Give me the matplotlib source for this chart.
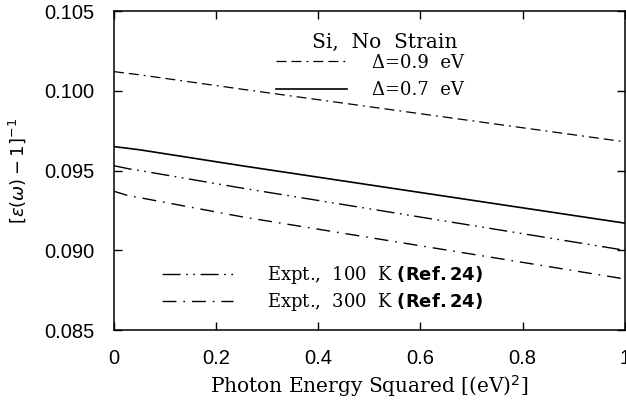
import matplotlib
matplotlib.use('Agg')
import matplotlib.pyplot as plt

matplotlib.rcParams['mathtext.fontset'] = 'dejavusans'

# photon energy squared (eV^2)
x = [0.0, 0.05, 0.25, 0.5, 0.75, 1.0]
# [eps(w)-1]^-1
d09 = [0.1012, 0.1010, 0.1001, 0.0990, 0.0979, 0.0968]
d07 = [0.0965, 0.0963, 0.0953, 0.0941, 0.0929, 0.0917]
x_expt = [0.0, 0.03, 0.05, 0.25, 0.5, 0.75, 1.0]
e100 = [0.0953, 0.0951, 0.0950, 0.0939, 0.0926, 0.0913, 0.0900]
e300 = [0.0937, 0.0934, 0.0933, 0.0921, 0.0908, 0.0895, 0.0882]

xticks = [0, 0.2, 0.4, 0.6, 0.8, 1]
xticklabels = ['0', '0.2', '0.4', '0.6', '0.8', '1']
yticks = [0.085, 0.090, 0.095, 0.100, 0.105]
yticklabels = ['0.085', '0.090', '0.095', '0.100', '0.105']

fig = plt.figure(figsize=(6.26, 4.0), dpi=100)
ax = fig.add_axes([0.182, 0.175, 0.816, 0.7975])

l09, = ax.plot(x, d09, color='black', lw=0.9, linestyle=(0, (8, 4, 8, 4, 1.5, 4)))
l07, = ax.plot(x, d07, color='black', lw=1.2, linestyle='-')
l100, = ax.plot(x_expt, e100, color='black', lw=1.0, linestyle=(0, (13, 4, 1.2, 4, 1.2, 4)))
l300, = ax.plot(x_expt, e300, color='black', lw=1.0, linestyle=(0, (10, 5, 1.2, 5)))

ax.set_xlim(0, 1)
ax.set_ylim(0.085, 0.105)
ax.set_xticks(xticks)
ax.set_xticklabels(xticklabels, fontfamily='Liberation Sans', fontsize=14.5)
ax.set_yticks(yticks)
ax.set_yticklabels(yticklabels, fontfamily='Liberation Sans', fontsize=14.5)
ax.tick_params(direction='in', length=6, width=1.0, top=True, right=True, pad=14)
for s in ax.spines.values():
    s.set_linewidth(1.1)

ax.set_xlabel(r'Photon Energy Squared [(eV)$^2$]', fontfamily='DejaVu Serif', fontsize=14.5, labelpad=3)
ax.set_ylabel(r'$[\varepsilon(\omega)-1]^{-1}$', fontsize=13, labelpad=12)

ax.text(0.673, 0.90, 'Si,  No  Strain', transform=ax.transAxes, ha='right', va='center',
        fontfamily='DejaVu Serif', fontsize=14.5)
leg1 = ax.legend([l09, l07], ['\u0394=0.9  eV', '\u0394=0.7  eV'],
                 loc='upper left', bbox_to_anchor=(0.30, 0.895), frameon=False,
                 prop={'family': 'DejaVu Serif', 'size': 13},
                 handlelength=3.9, handletextpad=1.4, labelspacing=0.55, borderpad=0)
ax.add_artist(leg1)
ax.legend([l100, l300],
          [r'Expt.,  100  K $\mathbf{(Ref.24)}$', r'Expt.,  300  K $\mathbf{(Ref.24)}$'],
          loc='lower left', bbox_to_anchor=(0.077, 0.025), frameon=False,
          prop={'family': 'DejaVu Serif', 'size': 13},
          handlelength=3.9, handletextpad=1.9, labelspacing=0.25, borderpad=0)

fig.savefig('out.png', dpi=100)
